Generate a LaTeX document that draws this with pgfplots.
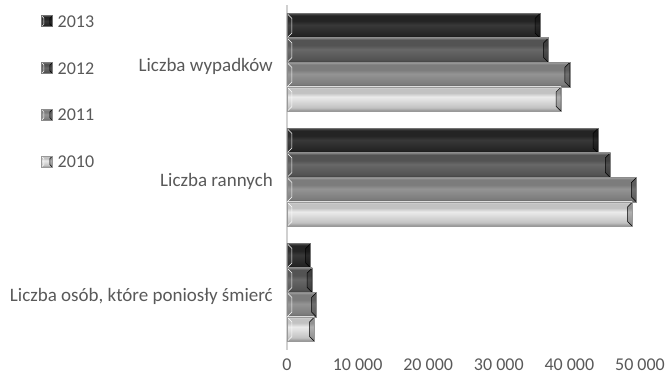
\documentclass[border=0pt]{standalone}
\usepackage{fontspec}
\setmainfont{Carlito}
\usepackage{pgfplots}
\pgfplotsset{compat=1.18}
\usetikzlibrary{calc}
\definecolor{txt}{HTML}{595959}
\definecolor{lg}{HTML}{D0D0D0}
% 2013
\definecolor{a1}{HTML}{141414}\definecolor{a2}{HTML}{242424}\definecolor{a3}{HTML}{383838}\definecolor{a4}{HTML}{4D4D4D}
% 2012
\definecolor{b1}{HTML}{3C3C3C}\definecolor{b2}{HTML}{535353}\definecolor{b3}{HTML}{686868}\definecolor{b4}{HTML}{7A7A7A}
% 2011
\definecolor{c1}{HTML}{5A5A5A}\definecolor{c2}{HTML}{7C7C7C}\definecolor{c3}{HTML}{949494}\definecolor{c4}{HTML}{9E9E9E}
% 2010
\definecolor{d1}{HTML}{8A8A8A}\definecolor{d2}{HTML}{C2C2C2}\definecolor{d3}{HTML}{EBEBEB}\definecolor{d4}{HTML}{D5D5D5}
\pgfdeclareverticalshading{sA}{100bp}{color(0bp)=(a1); color(25bp)=(a1); color(31bp)=(a2); color(52bp)=(a3); color(60bp)=(a2); color(71bp)=(a2); color(75bp)=(a4); color(100bp)=(a4)}
\pgfdeclareverticalshading{sB}{100bp}{color(0bp)=(b1); color(25bp)=(b1); color(31bp)=(b2); color(52bp)=(b3); color(60bp)=(b2); color(71bp)=(b2); color(75bp)=(b4); color(100bp)=(b4)}
\pgfdeclareverticalshading{sC}{100bp}{color(0bp)=(c1); color(25bp)=(c1); color(31bp)=(c2); color(52bp)=(c3); color(60bp)=(c2); color(71bp)=(c2); color(75bp)=(c4); color(100bp)=(c4)}
\pgfdeclareverticalshading{sD}{100bp}{color(0bp)=(d1); color(25bp)=(d1); color(33bp)=(d2); color(55bp)=(d3); color(63bp)=(d2); color(71bp)=(d2); color(75bp)=(d4); color(100bp)=(d4)}
\tikzset{
  bev/.style={path picture={
    \fill[path picture={}, black, fill opacity=0.55] (path picture bounding box.north east) -- ($(path picture bounding box.north east)+(-#1,-#1)$) -- ($(path picture bounding box.south east)+(-#1,#1)$) -- (path picture bounding box.south east) -- cycle;
    \fill[path picture={}, white, fill opacity=0.06] (path picture bounding box.north west) -- ($(path picture bounding box.north west)+(#1,-#1)$) -- ($(path picture bounding box.south west)+(#1,#1)$) -- (path picture bounding box.south west) -- cycle;
  }},
  bA/.style={shade, shading=sA, draw=black!55, line width=0.5bp},
  bB/.style={shade, shading=sB, draw=black!50, line width=0.5bp},
  bC/.style={shade, shading=sC, draw=black!45, line width=0.5bp},
  bD/.style={shade, shading=sD, draw=black!40, line width=0.5bp},
}
\begin{document}
\begin{tikzpicture}
\useasboundingbox (-287bp,-31bp) rectangle (383bp,350bp);
\begin{axis}[
  at={(0,0)}, anchor=south west,
  scale only axis, width=353bp, height=345bp,
  xmin=0, xmax=50000, ymin=-0.5, ymax=2.5,
  xbar, bar width=24.5bp,
  axis y line*=left, axis x line*=bottom,
  x axis line style={draw=none},
  y axis line style={draw=lg, line width=1.2bp, -},
  major tick length=0pt,
  xtick={0,10000,20000,30000,40000,50000},
  xticklabels={0,10 000,20 000,30 000,40 000,50 000},
  scaled x ticks=false,
  ytick={0,1,2},
  yticklabels={{Liczba osób, które poniosły śmierć},{Liczba rannych},{Liczba wypadków}},
  xticklabel style={inner sep=0pt, anchor=north, yshift=-9bp, font=\fontsize{18bp}{21bp}\selectfont, text=txt},
  yticklabel style={inner sep=0pt, anchor=east, xshift=-14bp, yshift=-4bp, font=\fontsize{19bp}{22bp}\selectfont, text=txt},
  clip=false,
  legend cell align=left,
  legend style={at={(axis description cs:-0.6969,0.971)}, anchor=north west, draw=none, fill=none, inner sep=0pt,
    row sep=34.8bp, nodes={inner sep=0pt, text height=12bp, text depth=0pt, text=txt},
    font=\fontsize{18bp}{21bp}\selectfont,
    /tikz/every odd column/.append style={column sep=5bp}},
]
% 2013
\addplot[bar shift=36.75bp, bA, bev=5bp, legend image code/.code={\path[bA, bev=2.5bp] (0bp,-5.5bp) rectangle (11bp,5.5bp);}] coordinates {(35847,2)};
\addlegendentry{2013}
\addplot[forget plot, bar shift=36.75bp, bA, bev=5bp] coordinates {(44059,1)};
\addplot[forget plot, bar shift=36.75bp, bA, bev=5bp] coordinates {(3357,0)};
% 2012
\addplot[bar shift=12.25bp, bB, bev=5bp, legend image code/.code={\path[bB, bev=2.5bp] (0bp,-5.5bp) rectangle (11bp,5.5bp);}] coordinates {(37046,2)};
\addlegendentry{2012}
\addplot[forget plot, bar shift=12.25bp, bB, bev=5bp] coordinates {(45792,1)};
\addplot[forget plot, bar shift=12.25bp, bB, bev=5bp] coordinates {(3571,0)};
% 2011
\addplot[bar shift=-12.25bp, bC, bev=5bp, legend image code/.code={\path[bC, bev=2.5bp] (0bp,-5.5bp) rectangle (11bp,5.5bp);}] coordinates {(40065,2)};
\addlegendentry{2011}
\addplot[forget plot, bar shift=-12.25bp, bC, bev=5bp] coordinates {(49501,1)};
\addplot[forget plot, bar shift=-12.25bp, bC, bev=5bp] coordinates {(4189,0)};
% 2010
\addplot[bar shift=-36.75bp, bD, bev=5bp, legend image code/.code={\path[bD, bev=2.5bp] (0bp,-5.5bp) rectangle (11bp,5.5bp);}] coordinates {(38832,2)};
\addlegendentry{2010}
\addplot[forget plot, bar shift=-36.75bp, bD, bev=5bp] coordinates {(48952,1)};
\addplot[forget plot, bar shift=-36.75bp, bD, bev=5bp] coordinates {(3907,0)};
\end{axis}
\end{tikzpicture}
\end{document}
